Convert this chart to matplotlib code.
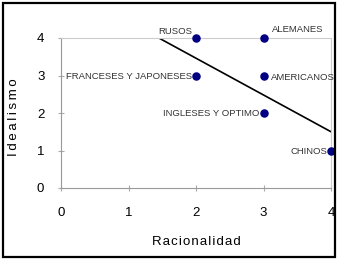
import matplotlib.pyplot as plt
from matplotlib.patches import Rectangle

# datos
racionalidad = [2, 3, 2, 3, 3, 4]
idealismo = [4, 4, 3, 3, 2, 1]
nombres = ["RUSOS", "ALEMANES", "FRANCESES Y JAPONESES", "AMERICANOS",
           "INGLESES Y OPTIMO", "CHINOS"]
# desplazamiento de cada etiqueta (pixeles) y alineacion
offsets = [(-4, 6), (8, 8), (-4, -1), (7, -2), (-4, -1), (-4, -1)]
aligns = ["right", "left", "right", "left", "right", "right"]

linea_x = [1.45, 4.0]
linea_y = [4.0, 1.5]

plt.rcParams["font.family"] = ["Liberation Sans", "DejaVu Sans"]


def espaciado(txt, sep):
    return sep.join(txt)


fig = plt.figure(figsize=(3.39, 2.6), dpi=100)
ax = fig.add_axes([61/339, 1-188/260, 270/339, 150/260])

ax.plot(linea_x, linea_y, color="black", lw=1.2, zorder=2)
ax.scatter(racionalidad, idealismo, s=26, color="#000080", zorder=3, clip_on=False)

for x, y, n, o, a in zip(racionalidad, idealismo, nombres, offsets, aligns):
    ax.annotate(n, (x, y), xytext=o, textcoords="offset pixels",
                ha=a, va="center", fontsize=6.8, color="#333333")

ax.set_xlim(0, 4)
ax.set_ylim(0, 4)
ax.set_xticks([0, 1, 2, 3, 4])
ax.set_yticks([0, 1, 2, 3, 4])
ax.tick_params(direction="inout", length=4, color="#aaaaaa", labelsize=9.5)
ax.tick_params(axis="x", pad=12)
ax.tick_params(axis="y", pad=10)

for s in ax.spines.values():
    s.set_color("#cccccc")
    s.set_linewidth(0.8)
ax.spines["left"].set_color("#999999")
ax.spines["bottom"].set_color("#999999")

ax.set_xlabel(espaciado("Racionalidad", "\u200a"), fontsize=9.5, labelpad=12)
ax.set_ylabel(espaciado("Idealismo", "\u2009"), fontsize=9.5, labelpad=10)
ax.yaxis.set_label_coords(-41/270, 0.47)

fig.patches.append(Rectangle((3/339, 3/260), 332/339, 254/260, transform=fig.transFigure,
                             fill=False, edgecolor="black", lw=1.6))

fig.savefig("out.png", dpi=100)
